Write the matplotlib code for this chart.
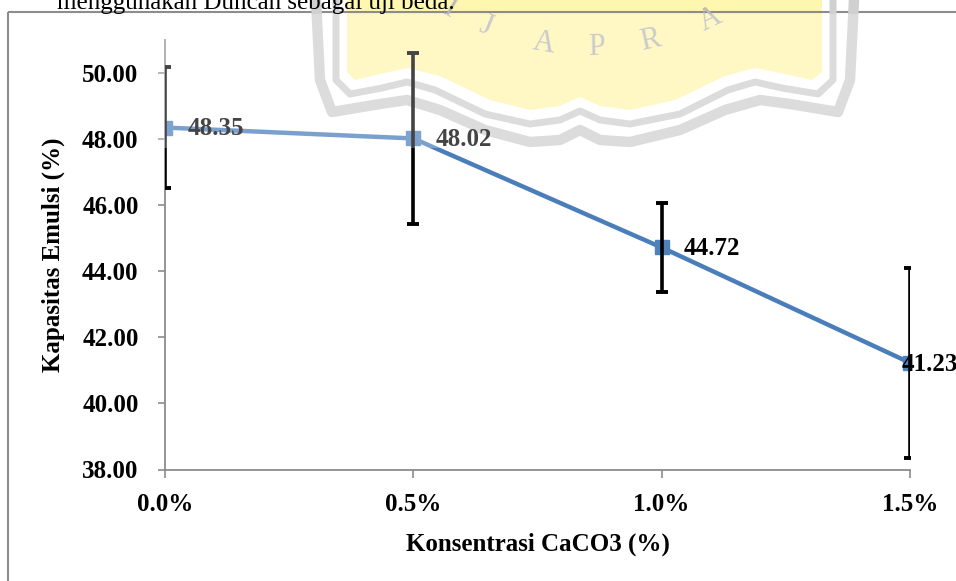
import numpy as np
import matplotlib.pyplot as plt
from matplotlib.patches import Polygon, Rectangle

# Kapasitas emulsi vs konsentrasi CaCO3
konsentrasi = ["0.0%", "0.5%", "1.0%", "1.5%"]
x_pos = [0.0, 0.5, 1.0, 1.5]
kapasitas = [48.35, 48.02, 44.72, 41.23]
sd = [1.83, 2.60, 1.36, 2.88]
y_ticks = [38, 40, 42, 44, 46, 48, 50]

W, H = 956, 581
plt.rcParams['font.family'] = ['Liberation Serif', 'DejaVu Serif']
fig = plt.figure(figsize=(W / 100, H / 100), dpi=100)
fig.patch.set_facecolor('white')

# background layer in pixel units: logo, frame, text line above
bg = fig.add_axes([0, 0, 1, 1], zorder=0)
bg.set_xlim(0, W)
bg.set_ylim(H, 0)
bg.axis('off')

yellow_pts = [(347, 0), (347, 72), (355, 80), (380, 74), (407, 68), (440, 76),
              (490, 100), (530, 110), (560, 106), (580, 97), (600, 106), (630, 110),
              (675, 100), (725, 76), (755, 68), (785, 74), (812, 80), (822, 72),
              (822, 0)]
bg.add_patch(Polygon(yellow_pts, closed=True, facecolor='#fff6b0', edgecolor='none'))

band_in = np.array([(336, 0), (336, 80), (350, 94), (382, 88), (407, 82), (435, 90),
                    (485, 114), (530, 124), (560, 120), (580, 111), (600, 120),
                    (630, 124), (680, 114), (728, 90), (755, 82), (782, 88),
                    (818, 94), (833, 80), (833, 0)])
band_out = np.array([(316, 0), (320, 80), (332, 112), (380, 104), (407, 100),
                     (440, 110), (485, 130), (530, 142), (560, 140), (580, 130),
                     (600, 140), (630, 142), (680, 130), (725, 110), (760, 100),
                     (790, 104), (838, 112), (850, 80), (854, 0)])
bg.plot(band_in[:, 0], band_in[:, 1], color='#d0d0d0', lw=5, solid_joinstyle='round')
bg.plot(band_out[:, 0], band_out[:, 1], color='#d0d0d0', lw=7.5, solid_joinstyle='round')

# letters around the seal
cx, cy, r = 590, -230, 277
for ch, dx in zip("GIJAPRAN", [-190, -140, -104, -46, 6, 60, 120, 172]):
    ang = np.arcsin(dx / r)
    px = cx + r * np.sin(ang)
    py = cy + r * np.cos(ang)
    bg.text(px, py, ch, fontsize=22, color='#b8b8b8', ha='center', va='center',
            rotation=np.degrees(ang), family='Liberation Serif')

bg.add_patch(Rectangle((8, 12), W + 20, H + 20, facecolor='none',
                       edgecolor='#8c8c8c', lw=1.5))
bg.text(57, 9, "menggunakan Duncan sebagai uji beda.", fontsize=18,
        color='black', ha='left', va='baseline')

# main chart
ax = fig.add_axes([165 / W, 1 - 469.5 / H, 745 / W, 429.5 / H], zorder=1)
ax.set_facecolor('none')

ax.plot(x_pos, kapasitas, color='#4a7ebb', lw=3.2, marker='s', markersize=10,
        markerfacecolor='#4f81bd', markeredgecolor='#4f81bd', zorder=2)
ax.errorbar(x_pos, kapasitas, yerr=sd, fmt='none', ecolor='black', elinewidth=2.6,
            capsize=4.5, capthick=2.8, zorder=3)

offsets = [16, 16, 16, -6]
for xv, yv, dx in zip(x_pos, kapasitas, offsets):
    ax.annotate(f"{yv:.2f}", (xv, yv), xytext=(dx, -1), textcoords='offset points',
                ha='left', va='center', fontsize=18, fontweight='bold',
                color='black', annotation_clip=False, zorder=4)

ax.set_xlim(0, 1.5)
ax.set_ylim(38, 51)
ax.set_xticks(x_pos)
ax.set_xticklabels(konsentrasi)
ax.set_yticks(y_ticks)
ax.set_yticklabels([f"{v:.2f}" for v in y_ticks])

for s in ['top', 'right']:
    ax.spines[s].set_visible(False)
for s in ['left', 'bottom']:
    ax.spines[s].set_color('#8c8c8c')
    ax.spines[s].set_linewidth(1.3)

ax.tick_params(axis='y', direction='out', length=5, width=1.2, color='#8c8c8c',
               pad=14, labelsize=18)
ax.tick_params(axis='x', direction='out', length=6, width=1.2, color='#8c8c8c',
               pad=11, labelsize=18)
for lab in ax.get_xticklabels() + ax.get_yticklabels():
    lab.set_fontweight('bold')

ax.set_xlabel("Konsentrasi CaCO3 (%)", fontsize=18, fontweight='bold', labelpad=12)
ax.set_ylabel("Kapasitas Emulsi (%)", fontsize=18, fontweight='bold', labelpad=12)

# translucent white wash of the logo over the upper part of the chart
ov = fig.add_axes([0, 0, 1, 1], zorder=2)
ov.set_xlim(0, W)
ov.set_ylim(H, 0)
ov.axis('off')
ov.patch.set_alpha(0)
ov.add_patch(Rectangle((150, 14), 730, 134, facecolor='white', edgecolor='none',
                       alpha=0.27))

fig.savefig('out.png', dpi=100)
